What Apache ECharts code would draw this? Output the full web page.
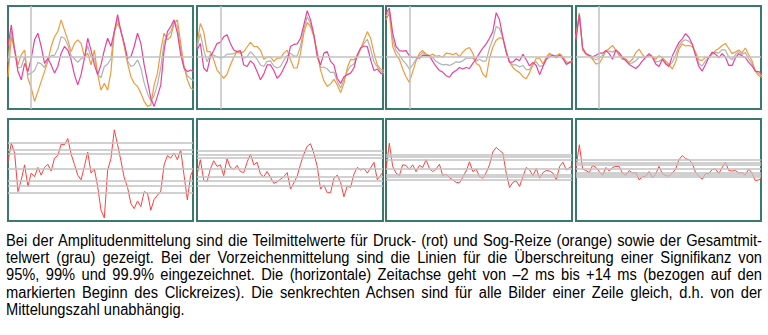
<!DOCTYPE html>
<html><head><meta charset="utf-8">
<script src="https://cdn.jsdelivr.net/npm/echarts@6/dist/echarts.min.js"></script>
<style>
html,body{margin:0;padding:0;background:#fff;}
#chart{position:absolute;left:0;top:0;width:768px;height:228px;}
#cap{position:absolute;left:6px;top:232px;width:756px;color:#000;transform-origin:0 0;
 font-family:"Liberation Sans Narrow","Arial Narrow","Liberation Sans",Arial,sans-serif;font-size:16px;line-height:17.2px;}
#cap div{white-space:nowrap;text-align:justify;text-align-last:justify;}
#cap div.last{text-align-last:left;}
</style></head>
<body>
<div id="chart"></div>
<div id="cap"></div>
<script>
// time axis (ms): -2 .. +14, click onset at 0
const T0 = -2, DT = 16 / 55.7;
// Amplitude averaging (top row): pink = Druck (rot), orange = Sog, gray = Gesamt
const p1Pink = [21,63,14,-28,-44,-12,-28,-2,34,47,21,-12,-2,-15,-31,-18,8,21,14,-5,-34,-54,-34,-2,37,14,-15,-34,-15,14,37,21,50,83,50,27,-2,1,21,47,27,-15,-47,-80,-96,-76,-54,14,50,60,73,47,5,-21,-28,-25,-28];
const p1Orange = [-38,40,14,-15,5,14,-41,-60,-86,-67,-47,-28,-8,21,40,50,73,53,34,11,27,34,27,1,8,-15,14,-34,-64,-51,-64,-28,50,66,53,21,-12,-38,-51,-57,-70,-86,-96,-93,-54,-31,14,47,34,40,66,73,27,-18,-44,-60,-64];
const p1Gray = [-8,51,14,-21,-19,1,-34,-31,-26,-10,-13,-20,-5,3,4,16,40,37,24,3,-3,-10,-3,0,22,0,0,-34,-40,-18,-13,-3,50,74,51,24,-7,-18,-15,-5,-21,-50,-71,-86,-75,-53,-20,30,42,50,69,60,16,-20,-36,-42,-46];
const p2Pink = [14,27,-21,-28,1,13,27,29,40,44,27,14,11,13,-15,-18,-7,-13,-28,-44,-33,-15,-15,-26,-41,-34,-21,-8,21,25,26,37,63,91,73,44,1,-15,8,11,-8,-15,-41,-51,-38,-34,-31,-21,5,18,22,21,-5,-26,-23,-31,-34];
const p2Orange = [24,66,50,11,11,-5,-25,-33,-41,-33,-15,0,11,8,11,20,29,21,21,14,-4,0,1,-8,-2,-2,8,14,-5,-21,-21,8,47,68,60,40,11,-25,-46,-57,-52,-43,-54,-69,-51,-21,-4,-5,1,16,33,50,37,8,-15,-23,-26];
const p2Gray = [19,46,15,-9,6,4,1,-2,0,6,6,7,11,10,-2,1,11,4,-4,-15,-18,-8,-7,-17,-21,-18,-6,3,8,2,2,22,55,79,66,42,6,-20,-19,-23,-30,-29,-47,-60,-44,-27,-17,-13,3,17,27,35,16,-9,-19,-27,-30];
const p3Pink = [86,96,47,21,13,12,13,3,-1,0,-2,4,3,3,-8,-18,-26,-29,-36,-39,-30,-26,-20,-23,-20,-22,-12,-3,8,18,26,37,50,87,73,39,9,-10,-9,-3,-7,6,-5,-17,-10,-16,-34,-18,-4,1,4,-1,4,-3,-14,-10,-8];
const p3Orange = [73,86,21,5,-4,-23,-38,-49,-28,-7,8,13,6,3,6,2,3,0,8,7,5,8,1,10,16,19,8,-12,-16,-33,-39,-2,20,33,38,37,13,-9,-20,-26,-30,-38,-42,-30,-15,-2,-2,-13,0,8,3,3,7,1,-9,-10,-7];
const p3Gray = [80,91,34,13,5,-6,-13,-23,-15,-4,3,9,5,3,-1,-8,-12,-15,-14,-16,-13,-9,-10,-7,-2,-2,-2,-8,-4,-8,-7,18,35,60,56,38,11,-10,-15,-15,-19,-16,-24,-24,-13,-9,-18,-16,-2,5,4,1,6,-1,-12,-10,-8];
const p4Pink = [34,83,18,7,4,1,4,8,8,13,7,-4,14,9,0,-7,-14,-18,-22,-16,-7,0,7,0,-13,-18,-4,-13,-18,3,16,29,36,46,39,26,3,-18,-27,-14,0,10,6,-1,7,0,-16,-16,-1,7,3,-1,-10,-17,-27,-28,-33];
const p4Orange = [40,86,14,6,2,-4,-13,-12,-1,12,17,23,14,3,-4,-3,-10,-4,9,16,5,-1,3,2,-4,3,-1,-7,-14,-23,-9,16,26,22,23,21,10,-5,-6,0,-1,6,13,17,23,27,17,7,10,14,9,18,5,-7,-27,-36,-39];
const p4Gray = [37,85,16,7,3,-2,-5,-2,4,13,12,10,14,6,-2,-5,-12,-11,-7,0,-1,0,5,1,-9,-8,-3,-10,-16,-10,4,22,31,34,31,24,7,-12,-17,-7,0,8,10,8,15,14,0,-5,5,11,6,9,-3,-12,-27,-32,-36];
// Sign averaging (bottom row)
const p5Red = [14,50,31,-44,-21,8,-34,-8,-15,3,-12,3,9,-4,21,26,48,47,59,29,9,-12,-21,5,33,-8,0,-34,-80,-95,-2,20,76,47,16,-17,-36,-67,-77,-62,-73,-44,-47,-80,-59,-51,-43,8,26,21,31,18,37,-12,-60,-12,1];
const p6Red = [-12,18,-21,-25,0,16,5,8,-13,20,3,-1,7,-5,-7,13,29,8,13,-10,-15,-5,-16,-28,-25,-20,-15,-7,-39,-27,-14,9,29,44,49,30,5,-39,-31,-46,-46,-18,-12,-26,-54,-33,-36,-10,3,-2,1,-8,2,13,-21,-12,-4];
const p7Red = [-2,50,5,-8,-13,8,7,-1,8,-5,7,3,18,1,-5,0,9,-13,-10,-17,-21,-26,-27,-16,-4,14,-5,0,-15,-18,-7,8,33,42,36,31,-8,-36,-26,-23,-34,-15,3,-2,-13,1,-18,-7,-3,-4,-8,-21,5,13,-2,3,7];
const p8Red = [1,47,0,-3,-7,7,3,-5,-12,3,-4,3,5,5,-8,-12,-3,-8,-7,-21,-15,-14,-5,-17,-10,5,-9,-13,-14,-8,0,18,26,20,18,11,-7,-14,-20,-9,-9,-1,0,-9,3,13,-3,-4,-3,-8,-7,-12,0,-8,-23,-21,-18];
// significance lines (95%, 99%, 99.9%) and centre line
const thr5 = [50,38,29,0,-23,-33,-46];
const thr6 = [35,27,21,0,-16,-23,-33];
const thr7 = [27,23,18,0,-12,-16,-21];
const thr8 = [18,13,9,0,-8,-12,-16];

const captionLines = [
 "Bei der Amplitudenmittelung sind die Teilmittelwerte für Druck- (rot) und Sog-Reize (orange) sowie der Gesamtmit-",
 "telwert (grau) gezeigt. Bei der Vorzeichenmittelung sind die Linien für die Überschreitung einer Signifikanz von",
 "95%, 99% und 99.9% eingezeichnet. Die (horizontale) Zeitachse geht von –2 ms bis +14 ms (bezogen auf den",
 "markierten Beginn des Clickreizes). Die senkrechten Achsen sind für alle Bilder einer Zeile gleich, d.h. von der",
 "Mittelungszahl unabhängig."
];

const cap = document.getElementById('cap');
captionLines.forEach((t, i) => {
  const d = document.createElement('div');
  d.textContent = t;
  if (i === captionLines.length - 1) d.className = 'last';
  cap.appendChild(d);
});
// fit caption: compress horizontally if the natural line width exceeds the box
(function fitCaption(){
  const cs = getComputedStyle(cap);
  const ctx = document.createElement('canvas').getContext('2d');
  ctx.font = cs.fontSize + ' ' + cs.fontFamily;
  let maxW = 0;
  captionLines.slice(0, 4).forEach(t => { maxW = Math.max(maxW, ctx.measureText(t).width); });
  const target = 742;
  if (maxW > target) {
    const s = target / maxW;
    cap.style.width = (756 / s) + 'px';
    cap.style.transform = 'scaleX(' + s + ')';
  }
})();

const colLeft = [8, 197, 386, 576];
const colWidth = [185, 186, 186, 185];
const rowTop = [6, 119];
const rowHeight = [103, 102];

const topPanels = [[p1Gray, p1Orange, p1Pink],[p2Gray, p2Orange, p2Pink],[p3Gray, p3Orange, p3Pink],[p4Gray, p4Orange, p4Pink]];
const botPanels = [p5Red, p6Red, p7Red, p8Red];
const thresholds = [thr5, thr6, thr7, thr8];

const toPts = arr => arr.map((v, i) => [T0 + i * DT, v]);

const grids = [], xAxes = [], yAxes = [], series = [];
const guideStyle = {color:'#c2c2c2', width:1.5, type:'solid'};
function addGrid(r, c) {
  const k = grids.length;
  grids.push({left: colLeft[c], top: rowTop[r], width: colWidth[c], height: rowHeight[r],
    show: true, borderColor: '#3a7a6c', borderWidth: 2, backgroundColor: '#fff'});
  xAxes.push({type:'value', gridIndex:k, min:-2, max:14, show:false});
  yAxes.push({type:'value', gridIndex:k, min:-101, max: r === 0 ? 100 : 97, show:false});
  return k;
}
const hSeg = v => [{coord:[-2, v]}, {coord:[14, v]}];
const vSeg = x => [{coord:[x, -101]}, {coord:[x, 100]}];
const lineCommon = {type:'line', symbol:'none', showSymbol:false, silent:true, animation:false, clip:true};
function guide(k, segs) {
  return Object.assign({}, lineCommon, {xAxisIndex:k, yAxisIndex:k, z:1, data:[],
    markLine:{silent:true, symbol:['none','none'], label:{show:false}, animation:false, lineStyle:guideStyle, data:segs}});
}
for (let c = 0; c < 4; c++) {
  const k = addGrid(0, c);
  series.push(guide(k, [vSeg(0), hSeg(0)]));
  const cols = ['#b2b2b2', '#f09a3e', '#e8429c'];
  topPanels[c].forEach((arr, j) => {
    series.push(Object.assign({}, lineCommon, {xAxisIndex:k, yAxisIndex:k, z:2+j, data:toPts(arr),
      lineStyle:{color:cols[j], width:1.2}}));
  });
}
for (let c = 0; c < 4; c++) {
  const k = addGrid(1, c);
  series.push(guide(k, [vSeg(0)].concat(thresholds[c].map(hSeg))));
  series.push(Object.assign({}, lineCommon, {xAxisIndex:k, yAxisIndex:k, z:3, data:toPts(botPanels[c]),
    lineStyle:{color:'#ff4040', width:1}}));
}

const chart = echarts.init(document.getElementById('chart'), null, {renderer:'canvas'});
chart.setOption({animation:false, backgroundColor:'#fff', grid:grids, xAxis:xAxes, yAxis:yAxes, series:series});
</script>
</body></html>
